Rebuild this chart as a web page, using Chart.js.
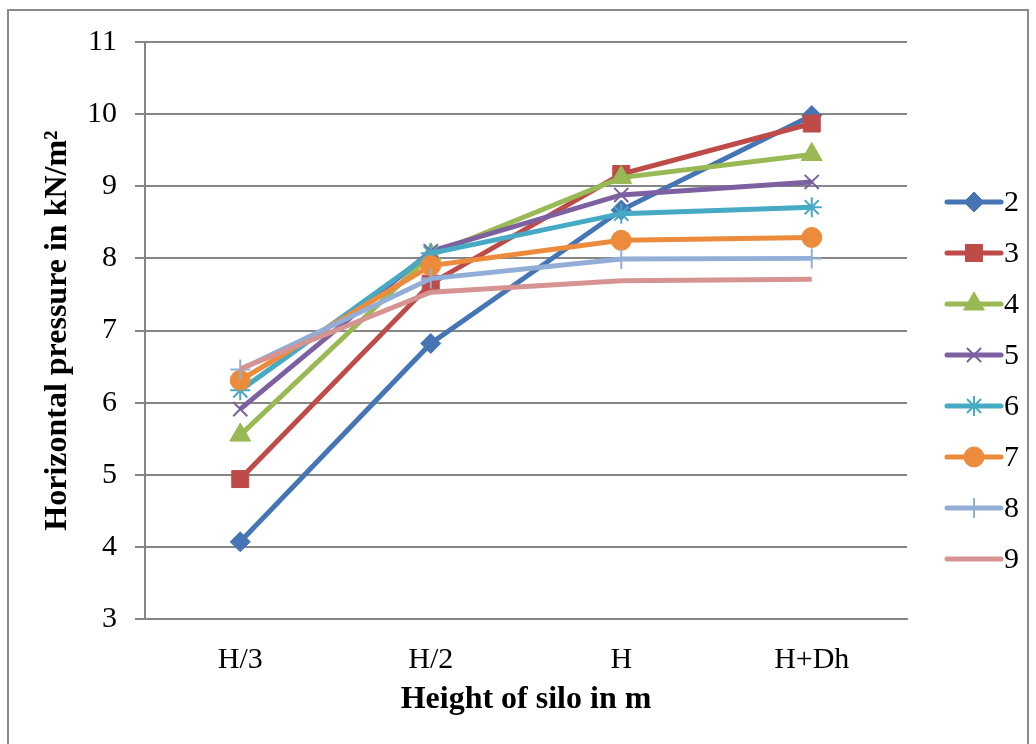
<!DOCTYPE html>
<html>
<head>
<meta charset="utf-8">
<script src="https://cdn.jsdelivr.net/npm/chart.js@4.4.0/dist/chart.umd.min.js"></script>
<style>
  html, body { margin: 0; padding: 0; background: #fff; }
  #wrap { width: 1036px; height: 744px; }
</style>
</head>
<body>
<div id="wrap"><canvas id="myChart" width="1036" height="744"></canvas></div>
<script>
// categories (height along the silo)
var heights = ['H/3', 'H/2', 'H', 'H+Dh'];

// horizontal pressure per series, kN/m2
var s2 = [4.07, 6.82, 8.67, 9.98];
var s3 = [4.94, 7.65, 9.17, 9.87];
var s4 = [5.55, 8.05, 9.12, 9.44];
var s5 = [5.91, 8.10, 8.88, 9.06];
var s6 = [6.17, 8.07, 8.62, 8.71];
var s7 = [6.31, 7.90, 8.25, 8.29];
var s8 = [6.46, 7.72, 7.99, 8.00];
var s9 = [6.47, 7.53, 7.69, 7.71];

var seriesNames = ['2', '3', '4', '5', '6', '7', '8', '9'];
var seriesData = [s2, s3, s4, s5, s6, s7, s8, s9];
var colors = ['#4675B6', '#BE4B48', '#98B954', '#7D60A0', '#46AAC5', '#EC8B3C', '#93AED6', '#D59492'];
var markers = ['rectRot', 'rect', 'triangle', 'crossRot', 'star', 'circle', 'cross', false];
var radii = [10, 12, 12, 10, 10, 10, 10, 0];

var serif = "'Liberation Serif', 'Times New Roman', serif";

var datasets = [];
for (var i = 0; i < seriesData.length; i++) {
    var hollow = markers[i] === 'crossRot' || markers[i] === 'star' || markers[i] === 'cross';
    datasets.push({
        label: seriesNames[i],
        data: seriesData[i],
        borderColor: colors[i],
        backgroundColor: colors[i],
        borderWidth: 5,
        pointStyle: markers[i],
        pointRadius: radii[i],
        pointHoverRadius: radii[i],
        pointBorderWidth: hollow ? 2 : 1,
        pointBorderColor: colors[i],
        pointBackgroundColor: colors[i],
        tension: 0,
        fill: false,
        order: seriesData.length - i   // later series on top, like the original
    });
}

// outer frame of the chart
const frame = {
    id: 'frame',
    beforeDraw: function (chart) {
        var ctx = chart.ctx;
        ctx.save();
        ctx.fillStyle = '#fff';
        ctx.fillRect(0, 0, chart.width, chart.height);
        ctx.strokeStyle = '#8a8a8a';
        ctx.lineWidth = 2;
        ctx.strokeRect(8, 10, chart.width - 16, chart.height + 20);
        ctx.restore();
    }
};

// legend drawn as line + marker, like the office chart
const sideLegend = {
    id: 'sideLegend',
    afterDraw: function (chart) {
        var ctx = chart.ctx;
        var area = chart.chartArea;
        var x0 = area.right + 40;
        var x1 = x0 + 54;
        ctx.save();
        chart.data.datasets.forEach(function (ds, i) {
            var y = area.top + 160 + i * 51;
            ctx.strokeStyle = ds.borderColor;
            ctx.lineWidth = 5;
            ctx.lineCap = 'round';
            ctx.beginPath();
            ctx.moveTo(x0, y);
            ctx.lineTo(x1, y);
            ctx.stroke();
            if (ds.pointStyle) {
                ctx.lineCap = 'butt';
                ctx.fillStyle = ds.pointBackgroundColor;
                ctx.strokeStyle = ds.pointBorderColor;
                ctx.lineWidth = ds.pointBorderWidth;
                Chart.helpers.drawPoint(ctx, {
                    pointStyle: ds.pointStyle,
                    radius: ds.pointRadius,
                    rotation: 0,
                    borderWidth: ds.pointBorderWidth
                }, (x0 + x1) / 2, y);
            }
            ctx.fillStyle = '#000';
            ctx.font = '30px ' + serif;
            ctx.textBaseline = 'middle';
            ctx.textAlign = 'left';
            ctx.fillText(ds.label, x1 + 3, y + 1);
        });
        ctx.restore();
    }
};

const ctx = document.getElementById('myChart').getContext('2d');
const myChart = new Chart(ctx, {
    type: 'line',
    data: {
        labels: heights,
        datasets: datasets
    },
    options: {
        responsive: false,
        animation: false,
        events: [],
        layout: {
            padding: { left: 39, right: 129, top: 42, bottom: 25 }
        },
        plugins: {
            legend: { display: false },
            tooltip: { enabled: false }
        },
        scales: {
            x: {
                offset: true,
                grid: { display: false },
                border: { display: true, color: '#868686', width: 2 },
                ticks: {
                    color: '#000',
                    padding: 15,
                    font: { family: serif, size: 30 }
                },
                title: {
                    display: true,
                    text: 'Height of silo in m',
                    color: '#000',
                    padding: { top: 0, bottom: 0 },
                    font: { family: serif, size: 32, weight: 'bold' }
                },
                afterFit: function (scale) { scale.height = 100; }
            },
            y: {
                min: 3,
                max: 11,
                ticks: {
                    stepSize: 1,
                    color: '#000',
                    padding: 18,
                    font: { family: serif, size: 30 }
                },
                grid: {
                    color: '#868686',
                    lineWidth: 2,
                    tickLength: 10,
                    drawTicks: true
                },
                border: { display: true, color: '#868686', width: 2 },
                title: {
                    display: true,
                    text: 'Horizontal pressure in kN/m²',
                    color: '#000',
                    padding: { top: 0, bottom: 0 },
                    font: { family: serif, size: 32, weight: 'bold' }
                },
                afterFit: function (scale) { scale.width = 106; }
            }
        }
    },
    plugins: [frame, sideLegend]
});
</script>
</body>
</html>
